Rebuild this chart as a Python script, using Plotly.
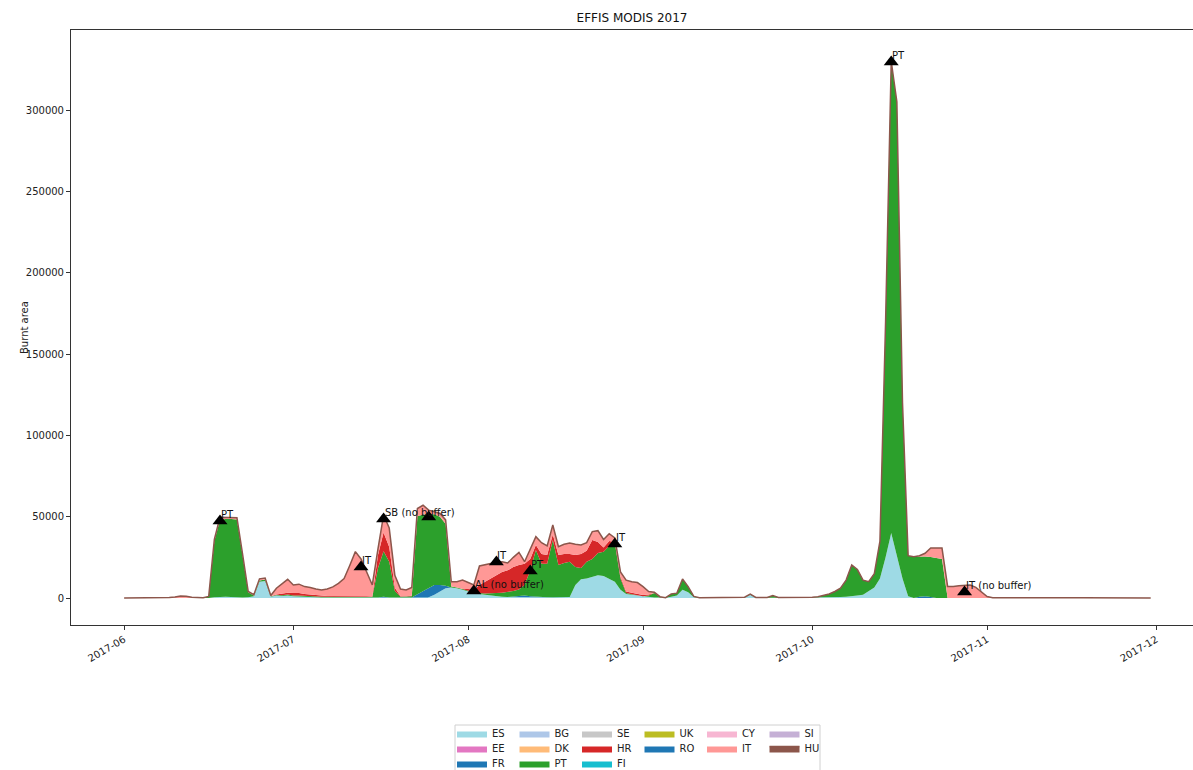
import plotly.graph_objects as go


def days(month, ds):
    return [f"2017-{month:02d}-{d:02d}" for d in ds]


DATES = (
    days(6, [1, 5, 9, 10, 11, 12, 13, 14, 15] + list(range(16, 31)))
    + days(7, range(1, 32))
    + days(8, range(1, 32))
    + days(9, list(range(1, 12)) + [14, 17, 19, 20, 21, 23, 24, 25, 28, 30])
    + days(10, range(1, 32))
    + days(11, [1, 2, 3, 6, 10, 13, 14, 15, 18, 22, 26, 30])
)

ES = [
    0, 0, 0, 0, 0, 0, 0, 0, 0, 0, 500, 800, 800, 600, 400, 300, 500, 1000, 10000, 10500, 800, 1500, 1200, 1500,
    1000, 800, 600, 500, 400, 300, 300, 300, 300, 300, 300, 300, 300, 300, 300, 300, 300, 300, 300, 300,
    300, 300, 300, 300, 500, 2000, 4000, 6000, 6500, 6000, 5000,
    4000, 3500, 2500, 2000, 1500, 1000, 800, 600, 500, 500, 500, 500, 500, 500, 500, 500, 500, 500, 600, 8000,
    11500, 12000, 13000, 14000, 13500, 12000, 10000, 5000, 2500, 2000, 1500,
    1000, 600, 300, 300, 100, 800, 1500, 5000, 3500, 500, 100, 200, 100, 300, 2000, 200, 200, 300, 200, 200, 200,
    200, 300, 300, 400, 500, 600, 800, 1000, 1500, 2000, 4000, 6500, 12000, 25000, 40000, 26000, 12000, 1000, 0, 0,
    0, 0, 0, 0, 0, 0, 0, 0, 0, 0, 0,
    100, 0, 0, 0, 0, 0, 0, 0, 0, 0, 0, 0,
]
FR = [
    0, 0, 0, 0, 0, 0, 0, 0, 0, 0, 0, 0, 0, 0, 0, 0, 0, 0, 0, 0, 0, 0, 0, 0,
    0, 0, 0, 0, 0, 0, 0, 0, 0, 0, 0, 0, 0, 0, 0, 0, 500, 0, 0, 0, 0, 0, 2000, 4000, 6000, 6000, 4000, 1500, 0, 0, 0,
    0, 0, 0, 0, 0, 0, 0, 0, 300, 800, 1000, 600, 300, 0, 0, 0, 0, 0, 0, 0, 0, 0, 0, 0, 0, 0, 0, 0, 0, 0, 0,
    0, 0, 0, 0, 0, 0, 0, 0, 0, 0, 0, 0, 0, 0, 0, 0, 0, 0, 0, 0, 0,
    0, 0, 0, 0, 0, 0, 0, 0, 0, 0, 0, 0, 0, 0, 0, 0, 0, 0, 0, 800, 1000, 600, 0, 0, 0, 0, 0, 0, 0, 0, 0,
    0, 0, 0, 0, 0, 0, 0, 0, 0, 0, 0, 0,
]
PT = [
    0, 0, 0, 0, 0, 0, 0, 0, 0, 1000, 34500, 47300, 47800, 48000, 47900, 26000, 3000, 500, 800, 800, 300, 300, 500, 600,
    500, 800, 700, 600, 500, 400, 400, 400, 400, 500, 500, 500, 500, 400, 300, 18000, 28000, 22000, 4000, 500,
    500, 800, 48000, 47000, 45000, 43500, 42000, 38000, 500, 500, 500,
    500, 500, 500, 800, 1300, 2000, 2500, 3000, 3500, 4000, 6500, 15900, 28700, 20500, 20500, 35200, 19800, 21000,
    21700, 11000, 6900, 10300, 11000, 13700, 15000, 20000, 23600, 7000, 500, 300, 0,
    0, 1000, 2700, 300, 100, 1700, 1500, 6700, 3500, 500, 100, 100, 100, 200, 400, 100, 100, 1200, 100, 100, 200,
    300, 500, 1200, 2100, 3500, 5400, 10200, 19300, 16000, 9000, 6000, 8500, 23000, 145000, 290000, 279000, 108000,
    25000, 25400, 24700, 24500, 24600, 24600, 24000, 0, 0, 0, 0, 0, 0, 0,
    0, 0, 0, 0, 0, 0, 0, 0, 0, 0, 0, 0,
]
HR = [
    0, 0, 0, 0, 0, 0, 0, 0, 0, 0, 0, 0, 0, 0, 0, 0, 0, 0, 0, 0, 0, 300, 800, 1200,
    1500, 1500, 1200, 1000, 800, 500, 500, 500, 500, 500, 500, 600, 500, 400, 300, 8000, 11500, 9000, 2000, 300,
    300, 300, 0, 0, 0, 0, 0, 0, 0, 0, 0,
    1000, 1000, 5000, 7200, 9200, 11000, 12700, 13400, 14700, 15000, 13000, 7000, 3100, 6000, 5400, 3300, 6100, 5500,
    4700, 7400, 8600, 6700, 11700, 6800, 2500, 3000, 900, 1000, 1000, 1000, 1000,
    800, 500, 0, 0, 0, 0, 0, 0, 0, 0, 0, 0, 0, 0, 0, 0, 0, 0, 0, 0, 0,
    0, 0, 0, 0, 0, 0, 0, 0, 0, 0, 0, 0, 0, 0, 0, 0, 0, 0, 0, 0, 0, 0, 0, 0, 0, 0, 0, 0, 0, 0, 0,
    0, 0, 0, 0, 0, 0, 0, 0, 0, 0, 0, 0,
]
IT = [
    0, 0, 300, 600, 1200, 1000, 400, 300, 200, 0, 1000, 1500, 1000, 1000, 1000, 700, 500, 500, 1000, 1000, 400, 3900, 6500, 8200,
    5000, 5400, 4500, 4400, 3800, 3800, 4300, 5600, 7800, 10700, 18700, 27100, 22700, 14900, 7100, 3700, 10700, 11700,
    7700, 4400, 3900, 5100, 4700, 5700, 2500, 1500, 2000, 2500, 3000, 3500, 5500,
    4000, 3000, 11700, 10500, 9000, 8000, 6300, 4500, 6000, 7700, 1300, 6000, 5100, 7000, 5600, 5900, 5100, 6000,
    6800, 6600, 5600, 5000, 5100, 6900, 5000, 4500, 2500, 3000, 7000, 6700, 7000,
    5200, 1900, 500, 200, 0, 0, 0, 0, 0, 0, 0, 0, 0, 0, 0, 0, 0, 0, 0, 0, 0,
    0, 0, 0, 0, 0, 0, 0, 0, 0, 0, 0, 0, 0, 0, 0, 0, 0, 0, 0, 500, 2000, 5500, 6100, 6700, 7000, 7000, 7600, 7600,
    8000, 6500, 3500,
    800, 200, 100, 100, 100, 200, 600, 200, 100, 100, 100, 0,
]
NONE = [0] * len(DATES)  # countries with no visible burnt area

COUNTRIES = ["ES", "EE", "FR", "BG", "DK", "PT", "SE", "HR", "FI", "UK", "RO", "CY", "IT", "SI", "HU"]
SERIES = {"ES": ES, "FR": FR, "PT": PT, "HR": HR, "IT": IT}
COLORS = ["#9edae5", "#e377c2", "#1f77b4", "#aec7e8", "#ffbb78", "#2ca02c", "#c7c7c7", "#d62728",
          "#17becf", "#bcbd22", "#1f77b4", "#f7b6d2", "#ff9896", "#c5b0d5", "#8c564b"]
LEGEND_ROWS = [1, 2, 3, 1, 2, 3, 1, 2, 3, 1, 2, 1, 2, 1, 2]

EVENT_DATES = ["2017-06-18", "2017-07-13", "2017-07-17", "2017-07-25", "2017-08-02",
               "2017-08-06", "2017-08-12", "2017-08-27", "2017-10-15", "2017-10-28"]
EVENT_VALUES = [47300, 19100, 48600, 49800, 4300, 22100, 16600, 33200, 329500, 3700]
EVENT_LABELS = ["PT", "IT", "SB (no buffer)", "", "AL (no buffer)", "IT", "PT", "IT", "PT", "IT (no buffer)"]

Y_TICKS = [0, 50000, 100000, 150000, 200000, 250000, 300000]
X_TICKS = ["2017-06-01", "2017-07-01", "2017-08-01", "2017-09-01", "2017-10-01", "2017-11-01", "2017-12-01"]
X_TICK_TEXT = ["2017-06", "2017-07", "2017-08", "2017-09", "2017-10", "2017-11", "2017-12"]

fig = go.Figure()
for i, c in enumerate(COUNTRIES):
    vals = SERIES.get(c, NONE)
    is_top = c == "HU"
    fig.add_trace(go.Scatter(
        x=DATES, y=vals, name=c, stackgroup="one", mode="lines",
        line=dict(width=1.5 if is_top else 0, color=COLORS[i]),
        fillcolor=COLORS[i],
        legend="legend" if LEGEND_ROWS[i] == 1 else f"legend{LEGEND_ROWS[i]}",
        hoverinfo="skip",
    ))

fig.add_trace(go.Scatter(
    x=EVENT_DATES, y=EVENT_VALUES, mode="markers", showlegend=False,
    marker=dict(symbol="triangle-up", size=13, color="black"), hoverinfo="skip",
))
for d, v, t in zip(EVENT_DATES, EVENT_VALUES, EVENT_LABELS):
    if t:
        fig.add_annotation(x=d, y=v, text=t, showarrow=False, xanchor="left", yanchor="bottom",
                           font=dict(size=10, color="#111"), borderpad=0)

L, T, R, B = 71, 30, 0, 145
PW, PH = 1193 - L - R, 770 - T - B


def px(x):
    return (x - L) / PW


def py(y):
    return (770 - B - y) / PH


leg_common = dict(orientation="h", xanchor="left", yanchor="top", entrywidth=17.5, entrywidthmode="pixels",
                  itemwidth=30, bgcolor="rgba(0,0,0,0)", font=dict(size=10, color="#222"),
                  traceorder="normal", borderwidth=0, tracegroupgap=0)

fig.add_shape(type="rect", xref="paper", yref="paper", x0=px(455), x1=px(820), y0=py(725), y1=py(780),
              line=dict(color="#d0d0d0", width=1), fillcolor="white", layer="below")

fig.update_layout(
    width=1193, height=770,
    margin=dict(l=L, r=R, t=T, b=B, autoexpand=False),
    paper_bgcolor="white", plot_bgcolor="white",
    font=dict(family="DejaVu Sans", size=10, color="#222"),
    title=dict(text="EFFIS MODIS 2017", x=0.5, xref="paper", xanchor="center",
               y=1 - 18 / 770, yref="container", yanchor="middle", font=dict(size=12, color="#111")),
    xaxis=dict(range=["2017-05-22 14:00", "2017-12-07 12:00"], tickvals=X_TICKS, ticktext=X_TICK_TEXT,
               tickangle=-30, ticks="outside", ticklen=4, tickcolor="#333", showline=True, mirror=True,
               linecolor="#333", showgrid=False, zeroline=False),
    yaxis=dict(range=[-16600, 349200], tickvals=Y_TICKS, ticktext=[str(v) for v in Y_TICKS],
               ticks="outside", ticklen=4, tickcolor="#333", showline=True, mirror=True,
               linecolor="#333", showgrid=False, zeroline=False),
    legend=dict(x=px(452), y=py(719), **leg_common),
    legend2=dict(x=px(452), y=py(734), **leg_common),
    legend3=dict(x=px(452), y=py(749), **leg_common),
    showlegend=True,
)
fig.add_annotation(x=px(17), y=0.5, xref="paper", yref="paper", text="Burnt area", textangle=-90,
                   showarrow=False, font=dict(size=10, color="#222"))

fig.write_html("out.html")
